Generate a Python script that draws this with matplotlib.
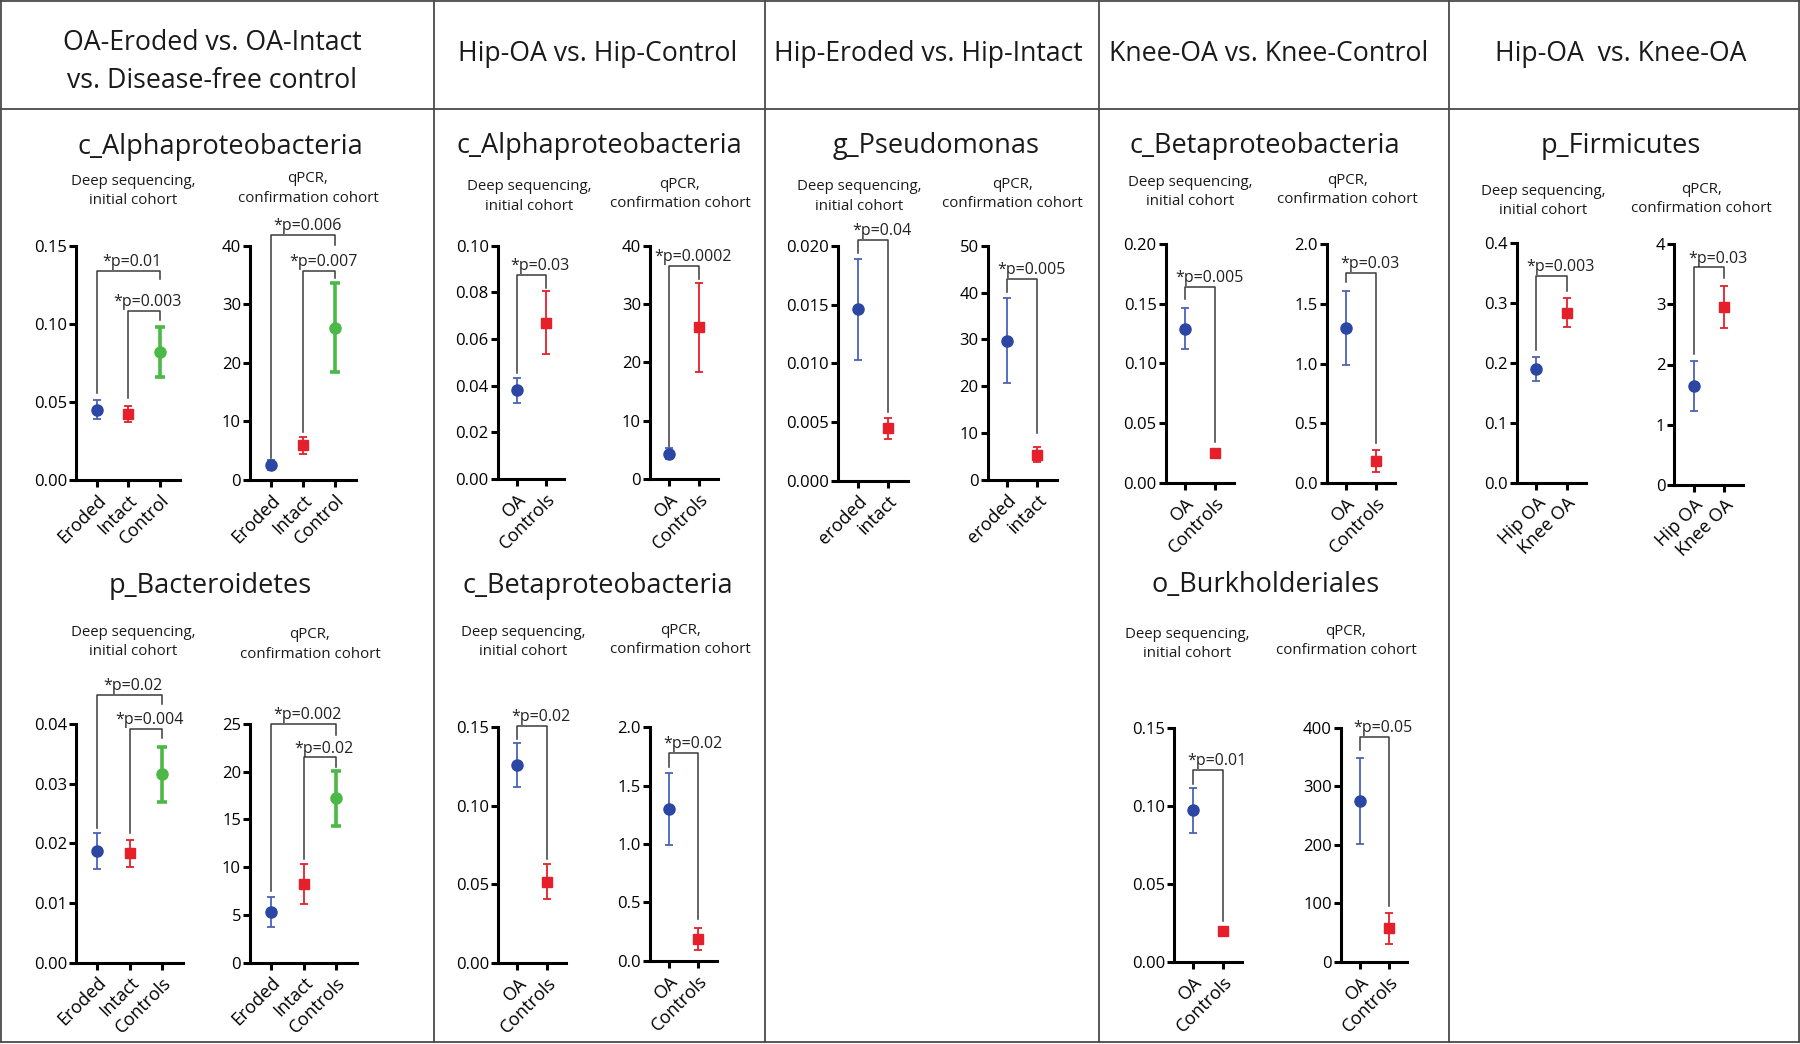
import matplotlib.pyplot as plt
from matplotlib.lines import Line2D

plt.rcParams['font.family'] = ['Open Sans', 'DejaVu Sans']

W, H = 1800, 1044

headers = [
    'OA-Eroded vs. OA-Intact\nvs. Disease-free control',
    'Hip-OA vs. Hip-Control',
    'Hip-Eroded vs. Hip-Intact',
    'Knee-OA vs. Knee-Control',
    'Hip-OA  vs. Knee-OA',
]
taxa = ['c_Alphaproteobacteria', 'p_Bacteroidetes', 'c_Alphaproteobacteria',
        'c_Betaproteobacteria', 'g_Pseudomonas', 'c_Betaproteobacteria',
        'o_Burkholderiales', 'p_Firmicutes']
sub_seq = 'Deep sequencing,\ninitial cohort'
sub_qpcr = 'qPCR,\nconfirmation cohort'

# category labels
cat_eic = ['Eroded', 'Intact', 'Control']
cat_eics = ['Eroded', 'Intact', 'Controls']
cat_oc = ['OA', 'Controls']
cat_ei = ['eroded', 'intact']
cat_hk = ['Hip OA', 'Knee OA']

# means and SEM
alpha3_seq_mean = [0.045, 0.042, 0.082]
alpha3_seq_sem = [0.0062, 0.0051, 0.016]
alpha3_qpcr_mean = [2.5, 5.9, 26.0]
alpha3_qpcr_sem = [0.85, 1.45, 7.6]
bact3_seq_mean = [0.0187, 0.0183, 0.0316]
bact3_seq_sem = [0.003, 0.0022, 0.0046]
bact3_qpcr_mean = [5.3, 8.2, 17.2]
bact3_qpcr_sem = [1.57, 2.1, 2.9]
alpha_hip_seq_mean = [0.038, 0.067]
alpha_hip_seq_sem = [0.0053, 0.0134]
alpha_hip_qpcr_mean = [4.3, 26.0]
alpha_hip_qpcr_sem = [0.95, 7.6]
beta_hip_seq_mean = [0.126, 0.0516]
beta_hip_seq_sem = [0.0138, 0.0113]
beta_hip_qpcr_mean = [1.30, 0.186]
beta_hip_qpcr_sem = [0.31, 0.093]
pseudo_seq_mean = [0.0146, 0.00448]
pseudo_seq_sem = [0.0043, 0.00088]
pseudo_qpcr_mean = [29.7, 5.4]
pseudo_qpcr_sem = [9.1, 1.6]
beta_knee_seq_mean = [0.129, 0.0246]
beta_knee_seq_sem = [0.017, 0.0015]
beta_knee_qpcr_mean = [1.30, 0.186]
beta_knee_qpcr_sem = [0.31, 0.091]
burk_seq_mean = [0.097, 0.0197]
burk_seq_sem = [0.0145, 0.001]
burk_qpcr_mean = [275, 57]
burk_qpcr_sem = [74, 26]
firm_seq_mean = [0.19, 0.284]
firm_seq_sem = [0.02, 0.0245]
firm_qpcr_mean = [1.65, 2.95]
firm_qpcr_sem = [0.415, 0.35]

# brackets: (from, to, height, left leg end, right leg end, label)
alpha3_seq_p = [(0, 2, 0.134, 0.0557, 0.1287, '*p=0.01'), (1, 2, 0.108, 0.0525, 0.1024, '*p=0.003')]
alpha3_qpcr_p = [(0, 2, 41.8, 3.8, 40.1, '*p=0.006'), (1, 2, 35.7, 8.2, 34.5, '*p=0.007')]
bact3_seq_p = [(0, 2, 0.0448, 0.0225, 0.0433, '*p=0.02'), (1, 2, 0.0392, 0.0217, 0.0376, '*p=0.004')]
bact3_qpcr_p = [(0, 2, 25.0, 7.5, 23.85, '*p=0.002'), (1, 2, 21.5, 10.9, 20.5, '*p=0.02')]
alpha_hip_seq_p = [(0, 1, 0.0874, 0.0453, 0.0817, '*p=0.03')]
alpha_hip_qpcr_p = [(0, 1, 36.6, 5.5, 34.3, '*p=0.0002')]
beta_hip_seq_p = [(0, 1, 0.151, 0.1427, 0.0661, '*p=0.02')]
beta_hip_qpcr_p = [(0, 1, 1.78, 1.66, 0.355, '*p=0.02')]
pseudo_seq_p = [(0, 1, 0.0205, 0.0194, 0.0059, '*p=0.04')]
pseudo_qpcr_p = [(0, 1, 43.0, 40.2, 10.0, '*p=0.005')]
beta_knee_seq_p = [(0, 1, 0.164, 0.154, 0.034, '*p=0.005')]
beta_knee_qpcr_p = [(0, 1, 1.76, 1.68, 0.34, '*p=0.03')]
burk_seq_p = [(0, 1, 0.123, 0.114, 0.026, '*p=0.01')]
burk_qpcr_p = [(0, 1, 384, 362, 95, '*p=0.05')]
firm_seq_p = [(0, 1, 0.346, 0.222, 0.321, '*p=0.003')]
firm_qpcr_p = [(0, 1, 3.61, 2.17, 3.43, '*p=0.03')]

BLUE = '#2b46a3'
BLUE_E = '#4a63b8'
RED = '#e5202a'
GREEN = '#4cb847'
LINE = '#3a3a3a'

# box = (left, top, right, bottom) in pixels
panels = [
    dict(box=(76, 245.7, 180, 480), cats=cat_eic, mean=alpha3_seq_mean, sem=alpha3_seq_sem,
         ymax=0.15, step=0.05, fmt='{:.2f}', br=alpha3_seq_p),
    dict(box=(250, 245.7, 356, 480), cats=cat_eic, mean=alpha3_qpcr_mean, sem=alpha3_qpcr_sem,
         ymax=40, step=10, fmt='{:.0f}', br=alpha3_qpcr_p),
    dict(box=(76, 724, 182.7, 962.7), cats=cat_eics, mean=bact3_seq_mean, sem=bact3_seq_sem,
         ymax=0.04, step=0.01, fmt='{:.2f}', br=bact3_seq_p),
    dict(box=(250, 724, 357, 962.7), cats=cat_eics, mean=bact3_qpcr_mean, sem=bact3_qpcr_sem,
         ymax=25, step=5, fmt='{:.0f}', br=bact3_qpcr_p),
    dict(box=(497.7, 245.7, 564.3, 479), cats=cat_oc, mean=alpha_hip_seq_mean, sem=alpha_hip_seq_sem,
         ymax=0.10, step=0.02, fmt='{:.2f}', br=alpha_hip_seq_p),
    dict(box=(650, 245.7, 718.3, 479), cats=cat_oc, mean=alpha_hip_qpcr_mean, sem=alpha_hip_qpcr_sem,
         ymax=40, step=10, fmt='{:.0f}', br=alpha_hip_qpcr_p),
    dict(box=(498.3, 727.3, 565.7, 962.7), cats=cat_oc, mean=beta_hip_seq_mean, sem=beta_hip_seq_sem,
         ymax=0.15, step=0.05, fmt='{:.2f}', br=beta_hip_seq_p),
    dict(box=(650, 727.3, 717.3, 960.7), cats=cat_oc, mean=beta_hip_qpcr_mean, sem=beta_hip_qpcr_sem,
         ymax=2.0, step=0.5, fmt='{:.1f}', br=beta_hip_qpcr_p),
    dict(box=(837.7, 245.7, 907.7, 481), cats=cat_ei, mean=pseudo_seq_mean, sem=pseudo_seq_sem,
         ymax=0.020, step=0.005, fmt='{:.3f}', br=pseudo_seq_p),
    dict(box=(987.7, 245.7, 1056.7, 480), cats=cat_ei, mean=pseudo_qpcr_mean, sem=pseudo_qpcr_sem,
         ymax=50, step=10, fmt='{:.0f}', br=pseudo_qpcr_p),
    dict(box=(1165.7, 244, 1234.3, 482.7), cats=cat_oc, mean=beta_knee_seq_mean, sem=beta_knee_seq_sem,
         ymax=0.20, step=0.05, fmt='{:.2f}', br=beta_knee_seq_p),
    dict(box=(1326.7, 244, 1395, 483.3), cats=cat_oc, mean=beta_knee_qpcr_mean, sem=beta_knee_qpcr_sem,
         ymax=2.0, step=0.5, fmt='{:.1f}', br=beta_knee_qpcr_p),
    dict(box=(1174, 727.7, 1241.7, 961.7), cats=cat_oc, mean=burk_seq_mean, sem=burk_seq_sem,
         ymax=0.15, step=0.05, fmt='{:.2f}', br=burk_seq_p),
    dict(box=(1340.7, 727.7, 1407.3, 961.7), cats=cat_oc, mean=burk_qpcr_mean, sem=burk_qpcr_sem,
         ymax=400, step=100, fmt='{:.0f}', br=burk_qpcr_p),
    dict(box=(1516.7, 243.3, 1586, 482.7), cats=cat_hk, mean=firm_seq_mean, sem=firm_seq_sem,
         ymax=0.4, step=0.1, fmt='{:.1f}', br=firm_seq_p),
    dict(box=(1674.3, 244, 1743.3, 485), cats=cat_hk, mean=firm_qpcr_mean, sem=firm_qpcr_sem,
         ymax=4, step=1, fmt='{:.0f}', br=firm_qpcr_p),
]

header_pos = [(212, 62), (598, 54), (928.5, 54), (1269, 54), (1621, 54)]
taxa_pos = [(220, 147), (210, 585.5), (599.3, 145.5), (598.3, 585.5), (935.7, 145.5),
            (1265, 145.5), (1266, 585.5), (1620.7, 145.5)]
sub_pos = [(133, 191), (308, 188.5), (133, 642), (310, 644.7), (529.3, 196.3), (680, 193.7),
           (523.3, 642), (680.7, 639.7), (859.3, 196.3), (1012.3, 193.7), (1190, 192),
           (1347.3, 189.7), (1187.3, 643.7), (1346, 641.2), (1543.3, 201.3), (1701, 199)]


def fx(x):
    return x / W


def fy(y):
    return 1 - y / H


def draw_panel(fig, p):
    l, t, r, b = p['box']
    ax = fig.add_axes([fx(l), fy(b), (r - l) / W, (b - t) / H])
    n = len(p['cats'])
    ax.set_xlim(-0.65, n - 0.36)
    ax.set_ylim(0, p['ymax'])
    for s in ['top', 'right']:
        ax.spines[s].set_visible(False)
    for s in ['left', 'bottom']:
        ax.spines[s].set_linewidth(2.2)
    nt = int(round(p['ymax'] / p['step']))
    ticks = [k * p['step'] for k in range(nt + 1)]
    ax.set_yticks(ticks)
    ax.set_yticklabels([p['fmt'].format(v) for v in ticks])
    ax.set_xticks(range(n))
    ax.set_xticklabels(p['cats'], rotation=45, ha='right', va='top', rotation_mode='anchor')
    ax.tick_params(axis='both', width=2.2, length=5, labelsize=12, pad=1.5)
    ax.tick_params(axis='x', pad=3, labelsize=13)
    ax.patch.set_alpha(0)

    for i, (m, e) in enumerate(zip(p['mean'], p['sem'])):
        if i == 0:
            ax.errorbar(i, m, yerr=e, fmt='o', color=BLUE, ecolor=BLUE_E, ms=8,
                        elinewidth=1.3, capsize=3, capthick=1.3, clip_on=False, zorder=3)
        elif i == 1:
            ax.errorbar(i, m, yerr=e, fmt='s', color=RED, ecolor=RED, ms=7.5,
                        elinewidth=1.3, capsize=3, capthick=1.3, clip_on=False, zorder=3)
        else:
            ax.errorbar(i, m, yerr=e, fmt='o', color=GREEN, ecolor=GREEN, ms=8,
                        elinewidth=2.6, capsize=3.5, capthick=2.6, clip_on=False, zorder=3)

    shift = 0.3 if n == 2 else 0.12
    for i, j, h, lb, rb, txt in p['br']:
        ax.plot([i, i, j, j], [lb, h, h, rb], color=LINE, lw=1.1, clip_on=False)
        ax.annotate(txt, xy=((i + j) / 2 + shift, h), xytext=(0, 3.5),
                    textcoords='offset points', ha='center', va='baseline',
                    fontsize=11.5, color='#222222', annotation_clip=False)
    return ax


def main():
    fig = plt.figure(figsize=(W / 100, H / 100), dpi=100)

    # frame: outer box, header rule and column separators
    frame = dict(color='#4a4a4a', lw=1.3, transform=fig.transFigure)
    for x in [1, 434, 765, 1099, 1449, 1799]:
        fig.add_artist(Line2D([fx(x), fx(x)], [fy(1), fy(1042)], **frame))
    for y in [1, 109, 1042]:
        fig.add_artist(Line2D([fx(1), fx(1799)], [fy(y), fy(y)], **frame))

    for (x, y), txt in zip(header_pos, headers):
        fig.text(fx(x), fy(y), txt, ha='center', va='center', fontsize=19.2,
                 linespacing=1.5, color='#1a1a1a')
    for (x, y), txt in zip(taxa_pos, taxa):
        fig.text(fx(x), fy(y), txt, ha='center', va='center', fontsize=19.5, color='#1a1a1a')
    for k, (x, y) in enumerate(sub_pos):
        txt = sub_seq if k % 2 == 0 else sub_qpcr
        fig.text(fx(x), fy(y), txt, ha='center', va='center', fontsize=10.8,
                 linespacing=1.4, color='#1a1a1a')

    for p in panels:
        draw_panel(fig, p)

    fig.savefig('out.png', dpi=100)


if __name__ == '__main__':
    main()
